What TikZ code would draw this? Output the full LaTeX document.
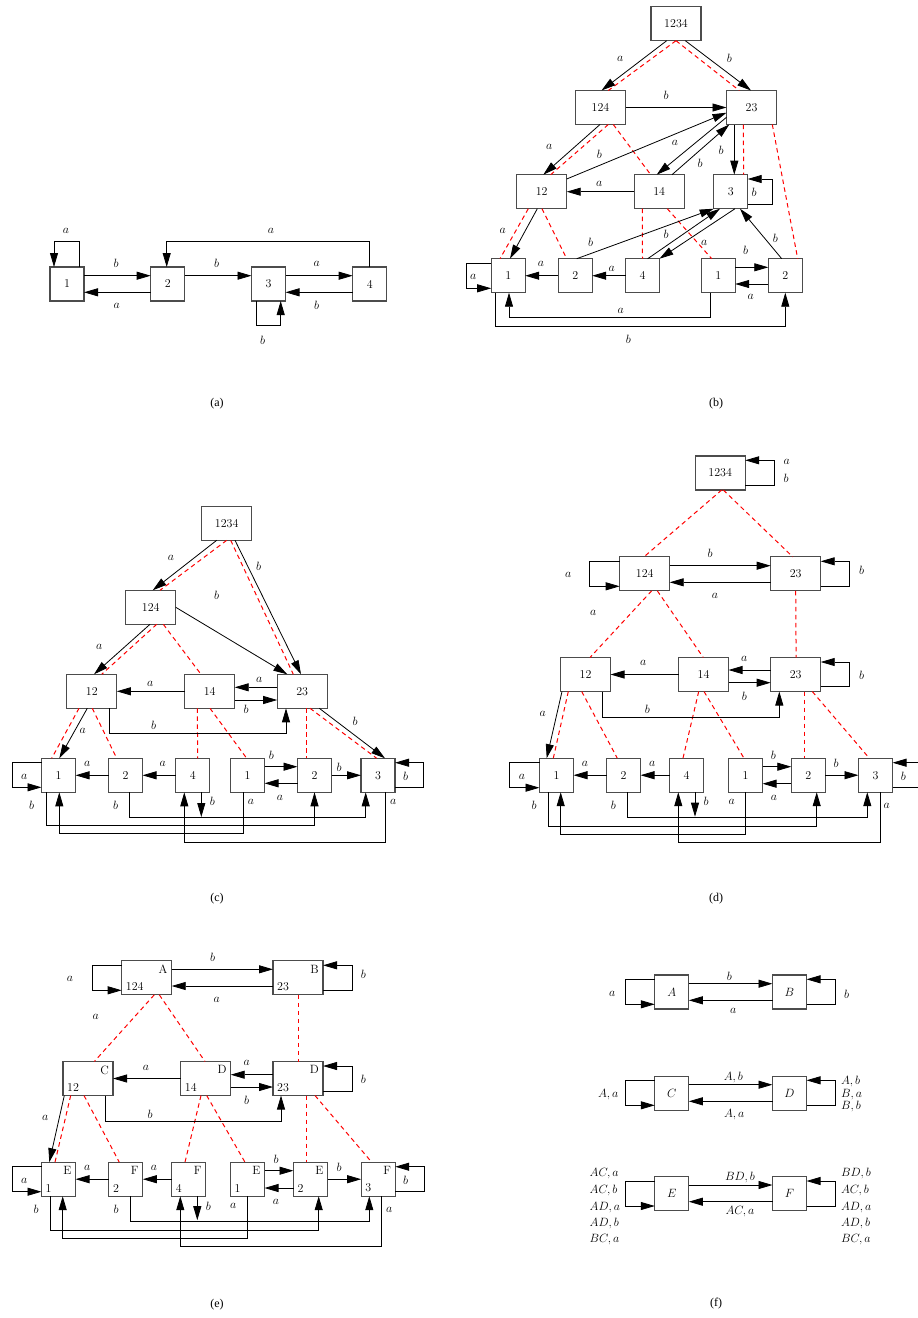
\documentclass[tikz,border=0pt]{standalone}
\usepackage{fontspec}
\newfontfamily\capfont{Liberation Serif}
\usetikzlibrary{arrows.meta}

\begin{document}
\begin{tikzpicture}[
    x=1pt, y=1pt,
    sbox/.style={rectangle, draw=black!70, line width=1.1pt, minimum width=34pt, minimum height=34pt, inner sep=0pt, outer sep=0pt, font=\fontsize{12}{14}\selectfont},
    wbox/.style={sbox, minimum width=50pt},
    corner/.style 2 args={label={[anchor=north east, inner sep=4pt, font=\fontsize{12}{14}\selectfont]north east:#1}, label={[anchor=south west, inner sep=4pt, font=\fontsize{12}{14}\selectfont]south west:#2}},
    arr/.style={-{Triangle[length=14pt,width=8pt]}, line width=0.8pt},
    sim/.style={red, dash pattern=on 4.5pt off 3.5pt, line width=1pt},
    lbl/.style={font=\fontsize{12}{14}\selectfont, inner sep=0pt},
    subcap/.style={font=\capfont\fontsize{12}{14}\selectfont}
]
    \useasboundingbox (0,0) rectangle (918,-1318);

    % (a)
    \node[sbox] (a1) at (67,-284) {1};
    \node[sbox] (a2) at (167.7,-284) {2};
    \node[sbox] (a3) at (268.5,-284) {3};
    \node[sbox] (a4) at (369.7,-284) {4};
    \draw[arr] ([yshift=8.3]a1.east) -- ([yshift=8.3]a2.west) node[lbl] at (116,-263) {$b$};
    \draw[arr] ([yshift=-8.3]a2.west) -- ([yshift=-8.3]a1.east) node[lbl] at (116.7,-305.7) {$a$};
    \draw[arr] ([yshift=8.3]a2.east) -- ([yshift=8.3]a3.west) node[lbl] at (216.7,-263.3) {$b$};
    \draw[arr] ([yshift=8.3]a3.east) -- ([yshift=8.3]a4.west) node[lbl] at (316.7,-264.3) {$a$};
    \draw[arr] ([yshift=-8.3]a4.west) -- ([yshift=-8.3]a3.east) node[lbl] at (316.7,-305) {$b$};
    \draw[arr] ([xshift=12.3]a1.north) -- ++(0,25.6) -| ([xshift=-13]a1.north) node[lbl] at (66,-230.7) {$a$};
    \draw[arr] (a4.north) -- ++(0,25.6) -| ([xshift=-1]a2.north) node[lbl] at (271,-230.7) {$a$};
    \draw[arr] ([xshift=-12.5]a3.south) -- ++(0,-24.7) -| ([xshift=12.2]a3.south) node[lbl] at (262.7,-340) {$b$};
    \node[subcap] (capa) at (217,-404) {(a)};

    % (b)
    \node[wbox] (b1234) at (676,-23.7) {1234};
    \node[wbox] (b124) at (600.5,-107.5) {124};
    \node[wbox] (b23) at (751.5,-107.5) {23};
    \node[wbox] (b12) at (541.7,-191.7) {12};
    \node[wbox] (b14) at (659.2,-191.7) {14};
    \node[sbox] (b3) at (730.7,-191.7) {3};
    \node[sbox] (b1) at (508.2,-275.7) {1};
    \node[sbox] (b2) at (575.2,-275.7) {2};
    \node[sbox] (b4) at (642.5,-275.7) {4};
    \node[sbox] (b1p) at (718.2,-275.7) {1};
    \node[sbox] (b2p) at (785.3,-275.7) {2};
    \draw[sim] (b1234.south) -- ([xshift=7.8]b124.north);
    \draw[sim] (b1234.south) -- ([xshift=-12.2]b23.north);
    \draw[sim] ([xshift=7.8]b124.south) -- ([xshift=9]b12.north);
    \draw[sim] ([xshift=12.8]b124.south) -- ([xshift=-8.5]b14.north);
    \draw[sim] ([xshift=-8.2]b23.south) -- ([xshift=13]b3.north);
    \draw[sim] ([xshift=20.8]b23.south) -- ([xshift=12.4]b2p.north);
    \draw[sim] ([xshift=-13.4]b12.south) -- ([xshift=-8.2]b1.north);
    \draw[sim] ([xshift=0.3]b12.south) -- ([xshift=-8.5]b2.north);
    \draw[sim] ([xshift=-16.9]b14.south) -- (b4.north);
    \draw[sim] ([xshift=8.1]b14.south) -- ([xshift=-6.5]b1p.north);
    \draw[arr] ([xshift=-9.3]b1234.south) -- ([xshift=1]b124.north) node[lbl] at (620.3,-59.3) {$a$};
    \draw[arr] ([xshift=9.3]b1234.south) -- ([xshift=-0.5]b23.north) node[lbl] at (729.3,-58.3) {$b$};
    \draw[arr] (b124.east) -- (b23.west) node[lbl] at (666,-95.7) {$b$};
    \draw[arr] ([xshift=-0.5]b124.south) -- ([xshift=1.6]b12.north) node[lbl] at (549.3,-146.7) {$a$};
    \draw[arr] ([yshift=12.7]b12.east) -- ([yshift=-5.2]b23.west) node[lbl] at (599.3,-154.3) {$b$};
    \draw[arr] ([yshift=-9.8]b23.west) -- ([xshift=-2.5]b14.north) node[lbl] at (675,-143.3) {$a$};
    \draw[arr] ([xshift=12.8]b14.north) -- ([xshift=-22.2]b23.south) node[lbl] at (700,-163.3) {$b$};
    \draw[arr] ([xshift=-17.2]b23.south) -- ([xshift=3.6]b3.north) node[lbl] at (721,-150.7) {$b$};
    \draw[arr] ([yshift=-12.3]b3.east) -- ++(25,0) |- ([yshift=12.7]b3.east) node[lbl] at (754,-192.3) {$b$};
    \draw[arr] (b14.west) -- (b12.east) node[lbl] at (599.3,-184.3) {$a$};
    \draw[arr] ([xshift=-4.4]b12.south) -- ([xshift=1.8]b1.north) node[lbl] at (502.7,-231) {$a$};
    \draw[arr] ([xshift=1.5]b2.north) -- (b3.south west) node[lbl] at (590.7,-242.3) {$b$};
    \draw[arr] ([xshift=5.2]b4.north) -- ([xshift=-10.7]b3.south) node[lbl] at (666,-234) {$b$};
    \draw[arr] ([xshift=4.3]b3.south) -- (b4.north east) node[lbl] at (704.3,-243.3) {$a$};
    \draw[arr] ([xshift=-3.6]b2p.north) -- ([xshift=9.3]b3.south) node[lbl] at (775.3,-238.7) {$b$};
    \draw[arr] ([yshift=8.4]b1p.east) -- ([yshift=8.4]b2p.west) node[lbl] at (745.7,-250.7) {$b$};
    \draw[arr] ([yshift=-8.3]b2p.west) -- ([yshift=-8.3]b1p.east) node[lbl] at (750.7,-297.3) {$a$};
    \draw[arr] (b2.west) -- (b1.east) node[lbl] at (541,-264) {$a$};
    \draw[arr] (b4.west) -- (b2.east) node[lbl] at (611.7,-269) {$a$};
    \draw[arr] ([yshift=12.4]b1.west) -- ++(-25.3,0) |- ([yshift=-12.6]b1.west) node[lbl] at (473.3,-277.3) {$a$};
    \draw[arr] ([xshift=-8.2]b1p.south) -- ++(0,-25) -| ([xshift=0.8]b1.south) node[lbl] at (620.7,-311) {$a$};
    \draw[arr] ([xshift=-12.5]b1.south) -- ++(0,-33.4) -| (b2p.south) node[lbl] at (628.3,-339.3) {$b$};
    \node[subcap] (capb) at (716,-404) {(b)};

    % (c)
    \node[wbox] (c1234) at (226.7,-523.3) {1234};
    \node[wbox] (c124) at (150.8,-607.3) {124};
    \node[wbox] (c12) at (91.8,-691.3) {12};
    \node[wbox] (c14) at (209.7,-691.3) {14};
    \node[wbox] (c23) at (302.2,-691.3) {23};
    \node[sbox] (c1) at (58.5,-775.3) {1};
    \node[sbox] (c2) at (125.5,-775.3) {2};
    \node[sbox] (c4) at (192.8,-775.3) {4};
    \node[sbox] (c1p) at (247.5,-775.3) {1};
    \node[sbox] (c2p) at (314.5,-775.3) {2};
    \node[sbox] (c3) at (378,-775.3) {3};
    \draw[sim] (c1234.south) -- ([xshift=9.2]c124.north);
    \draw[sim] ([xshift=4]c1234.south) -- ([xshift=-8.9]c23.north);
    \draw[sim] ([xshift=5.9]c124.south) -- ([xshift=9.9]c12.north);
    \draw[sim] ([xshift=12.5]c124.south) -- ([xshift=-8.7]c14.north);
    \draw[sim] ([xshift=7.8]c23.south) -- ([xshift=-1.3]c3.north);
    \draw[sim] ([xshift=3.8]c23.south) -- ([xshift=-8.5]c2p.north);
    \draw[sim] ([xshift=0.3]c14.south) -- ([xshift=-0.8]c1p.north);
    \draw[sim] ([xshift=-12.4]c14.south) -- ([xshift=4.9]c4.north);
    \draw[sim] ([xshift=-12.8]c12.south) -- ([xshift=-6.8]c1.north);
    \draw[sim] ([xshift=0.5]c12.south) -- ([xshift=-8.8]c2.north);
    \draw[arr] ([xshift=-10]c1234.south) -- ([xshift=1.9]c124.north) node[lbl] at (171,-558.3) {$a$};
    \draw[arr] ([xshift=8.3]c1234.south) -- ([xshift=-1.2]c23.north) node[lbl] at (258.7,-566) {$b$};
    \draw[arr] (c124.east) -- ([xshift=-14.9]c23.north) node[lbl] at (216.7,-595.7) {$b$};
    \draw[arr] ([xshift=-0.8]c124.south) -- ([xshift=2.2]c12.north) node[lbl] at (99.3,-646.7) {$a$};
    \draw[arr] (c14.west) -- (c12.east) node[lbl] at (150.3,-683.7) {$a$};
    \draw[arr] ([yshift=4]c23.west) -- ([yshift=4]c14.east) node[lbl] at (259.3,-680.3) {$a$};
    \draw[arr] ([yshift=-8.7]c14.east) -- ([yshift=-8.7]c23.west) node[lbl] at (246,-709.3) {$b$};
    \draw[arr] ([xshift=17.2]c12.south) -- ++(0,-25.3) -| ([xshift=-16.2]c23.south) node[lbl] at (153.7,-725.3) {$b$};
    \draw[arr] ([xshift=17.1]c23.south) -- ([xshift=7]c3.north) node[lbl] at (355,-721) {$b$};
    \draw[arr] ([xshift=-4.5]c12.south) -- ([xshift=0.8]c1.north) node[lbl] at (82.7,-730.7) {$a$};
    \draw[arr] (c2.west) -- (c1.east) node[lbl] at (87.3,-764.3) {$a$};
    \draw[arr] (c4.west) -- (c2.east) node[lbl] at (162.7,-764.3) {$a$};
    \draw[arr] ([yshift=12.6]c1.west) -- ++(-29.4,0) |- ([yshift=-12]c1.west) node[lbl] at (24.3,-777.3) {$a$};
    \draw[arr] ([yshift=8.6]c1p.east) -- ([yshift=8.6]c2p.west) node[lbl] at (271.3,-755.3) {$b$};
    \draw[arr] ([yshift=-8]c2p.west) -- ([yshift=-8]c1p.east) node[lbl] at (280,-797.7) {$a$};
    \draw[arr] (c2p.east) -- (c3.west) node[lbl] at (339,-767) {$b$};
    \draw[arr] ([yshift=-12]c3.east) -- ++(28.6,0) |- ([yshift=12.6]c3.east) node[lbl] at (405.7,-776) {$b$};
    \draw[arr] ([xshift=3.8]c2.south) -- ++(0,-24.7) -| ([xshift=-12.3]c3.south) node[lbl] at (115.7,-805.3) {$b$};
    \draw[arr] ([xshift=8.5]c4.south) -- ++(0,-24.7) node[lbl] at (212.3,-801.7) {$b$};
    \draw[arr] ([xshift=-12.5]c1.south) -- ++(0,-33.4) -| (c2p.south) node[lbl] at (31.7,-805.3) {$b$};
    \draw[arr] ([xshift=-4.2]c1p.south) -- ++(0,-41.3) -| ([xshift=0.8]c1.south) node[lbl] at (251,-802.3) {$a$};
    \draw[arr] ([xshift=7.7]c3.south) -- ++(0,-50.3) -| ([xshift=-8.5]c4.south) node[lbl] at (393.3,-802.3) {$a$};
    \node[subcap] (capc) at (217,-899) {(c)};

    % (d)
    \node[wbox] (d1234) at (720.2,-473) {1234};
    \node[wbox] (d124) at (644.7,-573.8) {124};
    \node[wbox] (d23) at (795.7,-573.8) {23};
    \node[wbox] (d12) at (585.5,-674.5) {12};
    \node[wbox] (d14) at (703.5,-674.5) {14};
    \node[wbox] (d23b) at (795.7,-674.5) {23};
    \node[sbox] (d1) at (556.5,-775.2) {1};
    \node[sbox] (d2) at (623.5,-775.2) {2};
    \node[sbox] (d4) at (686.5,-775.2) {4};
    \node[sbox] (d1p) at (745.5,-775.2) {1};
    \node[sbox] (d2p) at (808.3,-775.2) {2};
    \node[sbox] (d3) at (875.5,-775.2) {3};
    \node[lbl] (d124a) at (593.3,-613.3) {$a$};
    \draw[sim] ([xshift=1.5]d1234.south) -- ([xshift=-0.7]d124.north);
    \draw[sim] ([xshift=3.1]d1234.south) -- ([xshift=-3]d23.north);
    \draw[sim] ([xshift=7]d124.south) -- ([xshift=4.5]d12.north);
    \draw[sim] ([xshift=12.6]d124.south) -- ([xshift=-0.2]d14.north);
    \draw[sim] (d23.south) -- ([xshift=0.4]d23b.north);
    \draw[sim] ([xshift=-17.2]d12.south) -- ([xshift=-3.2]d1.north);
    \draw[sim] ([xshift=-3.8]d12.south) -- ([xshift=-6.2]d2.north);
    \draw[sim] ([xshift=-4.8]d14.south) -- ([xshift=-3.5]d4.north);
    \draw[sim] ([xshift=0.5]d14.south) -- ([xshift=-1.5]d1p.north);
    \draw[sim] ([xshift=8.3]d23b.south) -- ([xshift=-4.3]d2p.north);
    \draw[sim] ([xshift=16.6]d23b.south) -- ([xshift=-6.2]d3.north);
    \draw[arr] ([yshift=-12.3]d1234.east) -- ++(29.4,0) |- ([yshift=12.7]d1234.east) node[lbl] at (786.7,-462.3) {$a$} node[lbl] at (786,-478.7) {$b$};
    \draw[arr] ([yshift=8.1]d124.east) -- ([yshift=8.1]d23.west) node[lbl] at (710,-553.3) {$b$};
    \draw[arr] ([yshift=-8.5]d23.west) -- ([yshift=-8.5]d124.east) node[lbl] at (715,-596) {$a$};
    \draw[arr] ([yshift=12.5]d124.west) -- ++(-30,0) |- ([yshift=-12.5]d124.west) node[lbl] at (568.3,-575.3) {$a$};
    \draw[arr] ([yshift=-12.5]d23.east) -- ++(29,0) |- ([yshift=12.5]d23.east) node[lbl] at (861.7,-570.7) {$b$};
    \draw[arr] (d14.west) -- (d12.east) node[lbl] at (643.3,-663.3) {$a$};
    \draw[arr] ([yshift=4.5]d23b.west) -- ([yshift=4.5]d14.east) node[lbl] at (744.3,-659) {$a$};
    \draw[arr] ([yshift=-8.2]d14.east) -- ([yshift=-8.2]d23b.west) node[lbl] at (744.3,-696.7) {$b$};
    \draw[arr] ([yshift=-12.2]d23b.east) -- ++(29,0) |- ([yshift=12.5]d23b.east) node[lbl] at (861.7,-675.3) {$b$};
    \draw[arr] ([xshift=17.2]d12.south) -- ++(0,-25.4) -| ([xshift=-16.4]d23b.south) node[lbl] at (647.3,-709.3) {$b$};
    \draw[arr] ([xshift=-23.5]d12.south) -- ([xshift=-9.8]d1.north) node[lbl] at (542.7,-714) {$a$};
    \draw[arr] (d2.west) -- (d1.east) node[lbl] at (585,-764.3) {$a$};
    \draw[arr] (d4.west) -- (d2.east) node[lbl] at (652.3,-764.3) {$a$};
    \draw[arr] ([yshift=12.5]d1.west) -- ++(-29.7,0) |- ([yshift=-12.5]d1.west) node[lbl] at (522,-776.7) {$a$};
    \draw[arr] ([yshift=8.5]d1p.east) -- ([yshift=8.5]d2p.west) node[lbl] at (773.3,-755.3) {$b$};
    \draw[arr] ([yshift=-8.5]d2p.west) -- ([yshift=-8.5]d1p.east) node[lbl] at (774,-797.7) {$a$};
    \draw[arr] (d2p.east) -- (d3.west) node[lbl] at (836,-763.3) {$b$};
    \draw[arr] ([yshift=-12.5]d3.east) -- ++(29,0) |- ([yshift=12.5]d3.east) node[lbl] at (903.3,-776.7) {$b$};
    \draw[arr] ([xshift=4.2]d2.south) -- ++(0,-25.3) -| ([xshift=-8.2]d3.south) node[lbl] at (613.3,-805.7) {$b$};
    \draw[arr] ([xshift=8.5]d4.south) -- ++(0,-24.5) node[lbl] at (706,-801.7) {$b$};
    \draw[arr] ([xshift=-7.8]d1.south) -- ++(0,-33.7) -| ([xshift=8.4]d2p.south) node[lbl] at (534,-805) {$b$};
    \draw[arr] ([xshift=0.2]d1p.south) -- ++(0,-42) -| ([xshift=4.2]d1.south) node[lbl] at (731.7,-802.3) {$a$};
    \draw[arr] ([xshift=4.5]d3.south) -- ++(0,-50.3) -| ([xshift=-8.2]d4.south) node[lbl] at (886.7,-805.7) {$a$};
    \node[subcap] (capd) at (716,-899) {(d)};

    % (e)
    \node[wbox, corner={A}{124}] (eA) at (146.7,-977.8) {};
    \node[wbox, corner={B}{23}] (eB) at (298,-977.8) {};
    \node[wbox, corner={C}{12}] (eC) at (88,-1078.5) {};
    \node[wbox, corner={D}{14}] (eD14) at (205.7,-1078.5) {};
    \node[wbox, corner={D}{23}] (eD23) at (298,-1078.5) {};
    \node[sbox, corner={E}{1}] (eE1) at (58.5,-1179.2) {};
    \node[sbox, corner={F}{2}] (eF2) at (125.8,-1179.2) {};
    \node[sbox, corner={F}{4}] (eF4) at (188.7,-1179.2) {};
    \node[sbox, corner={E}{1}] (eE1p) at (247.5,-1179.2) {};
    \node[sbox, corner={E}{2}] (eE2) at (310.5,-1179.2) {};
    \node[sbox, corner={F}{3}] (eF3) at (378.2,-1179.2) {};
    \node[lbl] (eAa) at (95.7,-1016.7) {$a$};
    \draw[sim] ([xshift=7.6]eA.south) -- ([xshift=6.3]eC.north);
    \draw[sim] ([xshift=12.6]eA.south) -- ([xshift=-0.7]eD14.north);
    \draw[sim] (eB.south) -- (eD23.north);
    \draw[sim] ([xshift=-17.3]eC.south) -- ([xshift=-3.5]eE1.north);
    \draw[sim] ([xshift=-4]eC.south) -- ([xshift=-6.5]eF2.north);
    \draw[sim] ([xshift=-4.7]eD14.south) -- ([xshift=-3.7]eF4.north);
    \draw[sim] ([xshift=1]eD14.south) -- ([xshift=-2.5]eE1p.north);
    \draw[sim] ([xshift=8]eD23.south) -- ([xshift=-4.5]eE2.north);
    \draw[sim] ([xshift=17]eD23.south) -- ([xshift=-6.5]eF3.north);
    \draw[arr] ([yshift=8.5]eA.east) -- ([yshift=8.5]eB.west) node[lbl] at (212.7,-957.3) {$b$};
    \draw[arr] ([yshift=-8.2]eB.west) -- ([yshift=-8.2]eA.east) node[lbl] at (216.7,-1000) {$a$};
    \draw[arr] ([yshift=12.5]eA.west) -- ++(-29,0) |- ([yshift=-12.5]eA.west) node[lbl] at (70,-979) {$a$};
    \draw[arr] ([yshift=-12.5]eB.east) -- ++(29.4,0) |- ([yshift=12.5]eB.east) node[lbl] at (363.3,-974) {$b$};
    \draw[arr] (eD14.west) -- (eC.east) node[lbl] at (146,-1068.3) {$a$};
    \draw[arr] ([yshift=3.8]eD23.west) -- ([yshift=3.8]eD14.east) node[lbl] at (246.7,-1063.3) {$a$};
    \draw[arr] ([yshift=-8.5]eD14.east) -- ([yshift=-8.5]eD23.west) node[lbl] at (246.7,-1100.7) {$b$};
    \draw[arr] ([yshift=-12.8]eD23.east) -- ++(29.4,0) |- ([yshift=12.5]eD23.east) node[lbl] at (363.3,-1079.3) {$b$};
    \draw[arr] ([xshift=17]eC.south) -- ++(0,-25.7) -| ([xshift=-17]eD23.south) node[lbl] at (150,-1114) {$b$};
    \draw[arr] ([xshift=-23.7]eC.south) -- ([xshift=-9.2]eE1.north) node[lbl] at (45.3,-1118.3) {$a$};
    \draw[arr] (eF2.west) -- (eE1.east) node[lbl] at (87.3,-1168.3) {$a$};
    \draw[arr] (eF4.west) -- (eF2.east) node[lbl] at (154,-1168.3) {$a$};
    \draw[arr] ([yshift=12.5]eE1.west) -- ++(-29.4,0) |- ([yshift=-12.5]eE1.west) node[lbl] at (24.3,-1180.7) {$a$};
    \draw[arr] ([yshift=8.5]eE1p.east) -- ([yshift=8.5]eE2.west) node[lbl] at (276,-1159.3) {$b$};
    \draw[arr] ([yshift=-8.8]eE2.west) -- ([yshift=-8.8]eE1p.east) node[lbl] at (276,-1202) {$a$};
    \draw[arr] (eE2.east) -- (eF3.west) node[lbl] at (339,-1167.3) {$b$};
    \draw[arr] ([yshift=-12.5]eF3.east) -- ++(29,0) |- ([yshift=12.5]eF3.east) node[lbl] at (405.7,-1180.7) {$b$};
    \draw[arr] ([xshift=4.2]eF2.south) -- ++(0,-25) -| ([xshift=-8.9]eF3.south) node[lbl] at (116,-1209.3) {$b$};
    \draw[arr] ([xshift=8.6]eF4.south) -- ++(0,-24) node[lbl] at (208.3,-1206) {$b$};
    \draw[arr] ([xshift=-8.5]eE1.south) -- ++(0,-34) -| ([xshift=8.2]eE2.south) node[lbl] at (36,-1209.3) {$b$};
    \draw[arr] ([xshift=0.2]eE1p.south) -- ++(0,-42) -| ([xshift=4.2]eE1.south) node[lbl] at (233.3,-1206) {$a$};
    \draw[arr] ([xshift=3.5]eF3.south) -- ++(0,-50) -| ([xshift=-8.4]eF4.south) node[lbl] at (389.3,-1210) {$a$};
    \node[subcap] (cape) at (217,-1305) {(e)};

    % (f)
    \node[sbox] (fA) at (671.8,-992) {$A$};
    \node[sbox] (fB) at (789.5,-992) {$B$};
    \node[sbox] (fC) at (671.8,-1093.2) {$C$};
    \node[sbox] (fD) at (789.5,-1093.2) {$D$};
    \node[sbox] (fE) at (671.8,-1193.5) {$E$};
    \node[sbox] (fF) at (789.5,-1193.5) {$F$};
    \draw[arr] ([yshift=8.3]fA.east) -- ([yshift=8.3]fB.west) node[lbl] at (729.3,-976) {$b$};
    \draw[arr] ([yshift=-8.3]fB.west) -- ([yshift=-8.3]fA.east) node[lbl] at (733.3,-1010.7) {$a$};
    \draw[arr] ([yshift=12.7]fA.west) -- ++(-29.3,0) |- ([yshift=-12.3]fA.west) node[lbl] at (612.3,-994) {$a$};
    \draw[arr] ([yshift=-12.3]fB.east) -- ++(29,0) |- ([yshift=12.7]fB.east) node[lbl] at (846.7,-994) {$b$};
    \draw[arr] ([yshift=8.5]fC.east) -- ([yshift=8.5]fD.west) node[lbl] at (733.3,-1077.3) {$A, b$};
    \draw[arr] ([yshift=-8.1]fD.west) -- ([yshift=-8.1]fC.east) node[lbl] at (734.3,-1114.3) {$A, a$};
    \draw[arr] ([yshift=12.9]fC.west) -- ++(-29.3,0) |- ([yshift=-12.1]fC.west) node[lbl] at (608.3,-1094.3) {$A, a$};
    \draw[arr] ([yshift=-12.1]fD.east) -- ++(29,0) |- ([yshift=12.9]fD.east)
        node[lbl, anchor=west] at (840.7,-1081.7) {$A, b$}
        node[lbl, anchor=west] at (840.7,-1094.3) {$B, a$}
        node[lbl, anchor=west] at (840.7,-1106) {$B, b$};
    \draw[arr] ([yshift=8.5]fE.east) -- ([yshift=8.5]fF.west) node[lbl] at (740,-1177.3) {$BD, b$};
    \draw[arr] ([yshift=-8.2]fF.west) -- ([yshift=-8.2]fE.east) node[lbl] at (740,-1211.7) {$AC, a$};
    \draw[arr] ([yshift=12.5]fE.west) -- ++(-29.3,0) |- ([yshift=-12.5]fE.west)
        node[lbl, anchor=west] at (589.3,-1173.3) {$AC, a$}
        node[lbl, anchor=west] at (589.3,-1190.7) {$AC, b$}
        node[lbl, anchor=west] at (589.3,-1207.7) {$AD, a$}
        node[lbl, anchor=west] at (589.3,-1223.3) {$AD, b$}
        node[lbl, anchor=west] at (589.3,-1240) {$BC, a$};
    \draw[arr] ([yshift=-12.5]fF.east) -- ++(29,0) |- ([yshift=12.5]fF.east)
        node[lbl, anchor=west] at (840.7,-1173.3) {$BD, b$}
        node[lbl, anchor=west] at (840.7,-1190.7) {$AC, b$}
        node[lbl, anchor=west] at (840.7,-1207.7) {$AD, a$}
        node[lbl, anchor=west] at (840.7,-1223.3) {$AD, b$}
        node[lbl, anchor=west] at (840.7,-1240) {$BC, a$};
    \node[subcap] (capf) at (716,-1304) {(f)};
\end{tikzpicture}
\end{document}
